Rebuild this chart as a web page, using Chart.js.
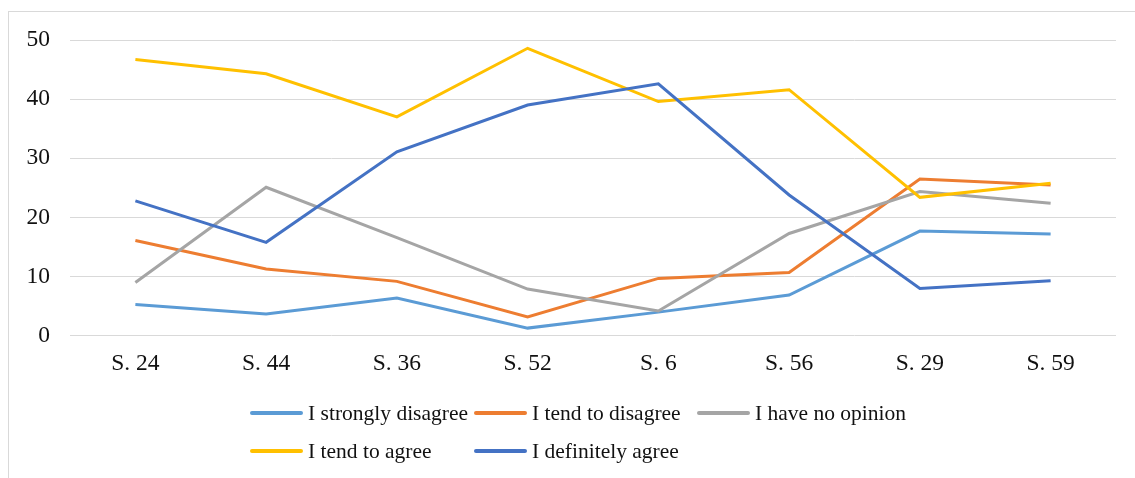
<!DOCTYPE html>
<html>
<head>
<meta charset="utf-8">
<script src="https://cdn.jsdelivr.net/npm/chart.js@4/dist/chart.umd.min.js"></script>
<style>
  body { margin: 0; background: #fff; }
  #wrap { position: relative; width: 1135px; height: 478px; overflow: hidden; }
  #frame { position: absolute; left: 8px; top: 11px; width: 1200px; height: 600px; border: 1px solid #d9d9d9; box-sizing: border-box; }
  #chartBox { position: absolute; left: 0; top: 0; width: 1135px; height: 478px; }
  #legend { position: absolute; left: 250px; top: 400px; display: grid; grid-template-columns: 224px 223px 230px; row-gap: 12px;
            font-family: "Liberation Serif", "Times New Roman", serif; font-size: 21.5px; color: #111; }
  .item { display: flex; align-items: center; height: 26px; white-space: nowrap; }
  .swatch { width: 53px; height: 4px; border-radius: 2px; margin-right: 5px; flex: none; }
</style>
</head>
<body>
<div id="wrap">
  <div id="frame"></div>
  <div id="chartBox"><canvas id="chartLines" width="1135" height="478"></canvas></div>
  <div id="legend"></div>
</div>
<script>
const categories = ['S. 24', 'S. 44', 'S. 36', 'S. 52', 'S. 6', 'S. 56', 'S. 29', 'S. 59'];
const seriesNames = ['I strongly disagree', 'I tend to disagree', 'I have no opinion', 'I tend to agree', 'I definitely agree'];
const stronglyDisagree = [5.3, 3.7, 6.4, 1.3, 4.0, 6.9, 17.7, 17.2];
const tendDisagree = [16.1, 11.3, 9.2, 3.2, 9.7, 10.7, 26.5, 25.5];
const noOpinion = [9.0, 25.1, 16.6, 7.9, 4.2, 17.3, 24.4, 22.4];
const tendAgree = [46.7, 44.3, 37.0, 48.6, 39.6, 41.6, 23.4, 25.8];
const definitelyAgree = [22.8, 15.8, 31.1, 39.0, 42.6, 23.8, 8.0, 9.3];
const colors = ['#5B9BD5', '#ED7D31', '#A5A5A5', '#FFC000', '#4472C4'];
const yTicks = [0, 10, 20, 30, 40, 50];

const values = [stronglyDisagree, tendDisagree, noOpinion, tendAgree, definitelyAgree];

let datasets = [];
for (let i = 0; i < values.length; i++) {
  datasets.push({
    label: seriesNames[i],
    data: values[i],
    borderColor: colors[i],
    backgroundColor: colors[i],
    borderWidth: 3,
    pointRadius: 0,
    tension: 0,
    fill: false,
    order: values.length - i   // later series on top, like Excel
  });
}

const serif = '"Liberation Serif", "Times New Roman", serif';

var ctx = document.getElementById('chartLines').getContext('2d');
var myChart = new Chart(ctx, {
  type: 'line',
  data: { labels: categories, datasets: datasets },
  options: {
    responsive: false,
    animation: false,
    layout: { padding: { left: 8, right: 19, top: 40, bottom: 94 } },
    plugins: { legend: { display: false }, tooltip: { enabled: false } },
    scales: {
      x: {
        offset: true,
        grid: { display: false },
        border: { display: false },
        ticks: { color: '#111', font: { family: serif, size: 23.5 }, padding: 6, maxRotation: 0 }
      },
      y: {
        min: 0, max: 50,
        afterBuildTicks: (scale) => { scale.ticks = yTicks.map(v => ({ value: v })); },
        afterFit: (scale) => { scale.width = 62; },
        grid: { color: '#d9d9d9', lineWidth: 1, drawTicks: false },
        border: { display: false },
        ticks: { color: '#111', font: { family: serif, size: 23.5 }, padding: 20 }
      }
    }
  }
});

let legendHtml = '';
for (let i = 0; i < seriesNames.length; i++) {
  legendHtml += `<div class="item"><span class="swatch" style="background:${colors[i]}"></span>${seriesNames[i]}</div>`;
}
document.getElementById('legend').insertAdjacentHTML('afterbegin', legendHtml);
</script>
</body>
</html>
